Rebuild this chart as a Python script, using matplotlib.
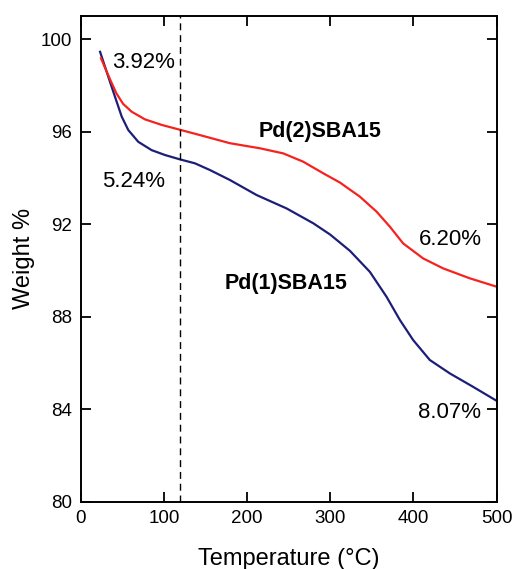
import matplotlib
matplotlib.use("Agg")
import matplotlib.pyplot as plt

plt.rcParams['font.family'] = ['Liberation Sans', 'DejaVu Sans']

# Pd(1)SBA15 (blue)
t1 = [23.3, 33.2, 41.2, 49.3, 57.2, 69.2, 85.3, 101.3, 119.4, 137.4, 155.4, 179.4, 211.5, 247.6,
      279.6, 300.0, 323.7, 347.7, 367.8, 383.8, 399.8, 419.8, 443.9, 471.9, 500]
w1 = [99.45, 98.37, 97.51, 96.65, 96.07, 95.56, 95.2, 94.99, 94.8, 94.63, 94.34, 93.91, 93.26, 92.68,
      92.04, 91.55, 90.85, 89.94, 88.86, 87.86, 86.99, 86.13, 85.55, 84.97, 84.37]
# Pd(2)SBA15 (red)
t2 = [24.4, 30.0, 36.0, 43.0, 51.0, 61.3, 77.3, 97.4, 119.4, 143.4, 179.4, 215.5, 243.5, 267.6, 291.6,
      311.7, 335.7, 355.8, 371.8, 387.7, 411.8, 435.8, 467.9, 500]
w2 = [99.17, 98.7, 98.2, 97.65, 97.2, 96.86, 96.53, 96.29, 96.08, 95.85, 95.5, 95.28, 95.06, 94.7, 94.2,
      93.8, 93.19, 92.54, 91.89, 91.17, 90.52, 90.09, 89.66, 89.3]

dashed_x = 120
xticks = [0, 100, 200, 300, 400, 500]
yticks = [80, 84, 88, 92, 96, 100]

fig = plt.figure(figsize=(5.14, 5.69), dpi=100)
ax = fig.add_axes([0.157, 0.118, 0.809, 0.854])

ax.plot(t1, w1, color='#1c1f78', lw=1.6, solid_joinstyle='round')
ax.plot(t2, w2, color='#f5231f', lw=1.6, solid_joinstyle='round')
ax.axvline(dashed_x, color='black', lw=1.0, ls=(0, (5, 3.5)))

ax.set_xlim(0, 500)
ax.set_ylim(80, 101)
ax.set_xticks(xticks)
ax.set_yticks(yticks)
ax.tick_params(direction='in', length=7, width=1.3, labelsize=13.5, top=True, right=True,
               labeltop=False, labelright=False, pad=6)
for s in ax.spines.values():
    s.set_linewidth(1.4)

ax.set_xlabel('Temperature (°C)', fontsize=17, labelpad=15)
ax.set_ylabel('Weight %', fontsize=17, labelpad=4)

ax.text(75, 99.0, '3.92%', fontsize=16, ha='center', va='center')
ax.text(63, 93.86, '5.24%', fontsize=16, ha='center', va='center')
ax.text(444, 91.35, '6.20%', fontsize=16, ha='center', va='center')
ax.text(444, 83.85, '8.07%', fontsize=16, ha='center', va='center')
ax.text(288, 96.02, 'Pd(2)SBA15', fontsize=15.5, fontweight='bold', ha='center', va='center')
ax.text(247, 89.45, 'Pd(1)SBA15', fontsize=15.5, fontweight='bold', ha='center', va='center')

fig.savefig('out.png', dpi=100)
